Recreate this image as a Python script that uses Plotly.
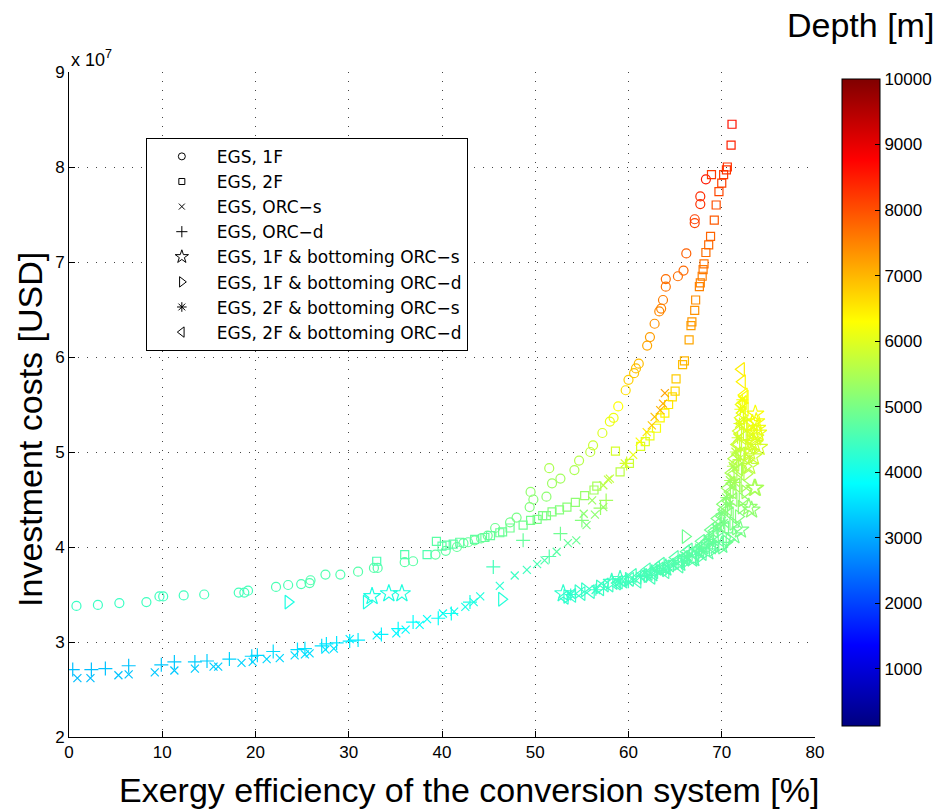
import plotly.graph_objects as go

# ---------------- data (efficiency %, cost in 1e7 USD, depth m) ----------------
egs1f_x = [0.8, 3.1, 5.4, 8.3, 9.7, 10.1, 12.3, 14.5, 18.2, 18.8, 19.2, 22.2, 23.5, 24.9, 25.8, 25.9, 27.5, 29.1,
           31.0, 32.7, 33.1, 36.0, 36.9, 39.3, 40.4, 41.6, 42.3, 42.8, 43.5, 44.2, 44.9, 45.7, 47.3, 48.0, 49.4,
           49.5, 49.8, 51.2, 51.5, 51.8, 52.7, 54.2, 54.7, 55.9, 56.2, 57.2, 58.0, 58.4, 58.9, 59.7, 60.0, 60.6,
           60.8, 61.1, 62.0, 62.3, 62.8, 63.3, 63.5, 63.7, 64.0, 64.0, 65.3, 65.9, 66.2, 67.1, 67.1, 67.7, 67.7, 68.3]
egs1f_y = [3.38, 3.39, 3.41, 3.42, 3.48, 3.48, 3.49, 3.50, 3.52, 3.52, 3.54, 3.58, 3.60, 3.61, 3.62, 3.65, 3.71, 3.71,
           3.74, 3.78, 3.78, 3.84, 3.85, 3.92, 3.96, 4.00, 4.04, 4.05, 4.07, 4.09, 4.12, 4.20, 4.26, 4.31, 4.42,
           4.58, 4.50, 4.53, 4.83, 4.67, 4.72, 4.81, 4.91, 5.00, 5.07, 5.20, 5.32, 5.36, 5.48, 5.65, 5.76, 5.83,
           5.88, 5.93, 6.12, 6.21, 6.35, 6.48, 6.51, 6.60, 6.74, 6.82, 6.85, 6.91, 7.09, 7.41, 7.45, 7.61, 7.69, 7.87]
egs1f_d = [4400, 4400, 4400, 4450, 4450, 4450, 4450, 4500, 4500, 4500, 4500, 4550, 4550, 4550, 4600, 4600, 4600, 4600,
           4650, 4650, 4650, 4700, 4700, 4750, 4750, 4800, 4800, 4800, 4850, 4850, 4850, 4900, 4950, 5000, 5100,
           5250, 5150, 5200, 5500, 5350, 5400, 5500, 5600, 5700, 5800, 5950, 6100, 6150, 6300, 6600, 6750, 6850,
           6900, 6950, 7150, 7250, 7350, 7450, 7500, 7550, 7650, 7700, 7700, 7750, 7850, 8100, 8150, 8300, 8350, 8550]

egs2f_x = [33.0, 36.0, 38.4, 39.4, 40.0, 40.5, 41.2, 41.9, 43.5, 44.6, 45.2, 46.2, 46.5, 47.3, 48.7, 49.5, 50.2, 50.8,
           51.2, 51.8, 52.6, 53.4, 54.3, 55.3, 56.3, 56.6, 58.6, 59.1, 60.1, 61.3, 61.8, 62.3, 63.0, 63.4, 63.9,
           64.3, 64.7, 65.0, 65.1, 65.8, 66.0, 66.5, 66.7, 66.8, 67.1, 67.2, 67.6, 67.7, 67.9, 68.0, 68.1, 68.3,
           68.6, 68.8, 69.2, 69.4, 69.7, 70.0, 70.2, 70.5, 70.6, 68.9, 71.0, 71.1]
egs2f_y = [3.85, 3.92, 3.92, 4.06, 4.01, 4.02, 4.03, 4.05, 4.08, 4.10, 4.12, 4.15, 4.16, 4.20, 4.23, 4.28, 4.29, 4.33,
           4.33, 4.37, 4.39, 4.42, 4.47, 4.54, 4.60, 4.64, 5.01, 4.79, 4.88, 5.06, 5.11, 5.17, 5.25, 5.36, 5.41,
           5.50, 5.58, 5.64, 5.77, 5.92, 5.96, 6.18, 6.33, 6.37, 6.49, 6.60, 6.74, 6.78, 6.85, 6.92, 6.98, 7.10,
           7.18, 7.27, 7.44, 7.60, 7.74, 7.83, 7.92, 7.97, 8.00, 7.92, 8.23, 8.45]
egs2f_d = [4550, 4600, 4600, 4700, 4700, 4700, 4700, 4750, 4750, 4800, 4800, 4850, 4850, 4900, 4900, 4950, 5000, 5000,
           5050, 5100, 5100, 5150, 5200, 5300, 5400, 5450, 5900, 5650, 5750, 5950, 6000, 6100, 6200, 6350, 6400,
           6500, 6600, 6700, 6800, 6950, 7000, 7150, 7250, 7300, 7350, 7400, 7500, 7500, 7550, 7600, 7650, 7700,
           7750, 7800, 7900, 8000, 8100, 8150, 8200, 8250, 8300, 8200, 8450, 8600]

orcs_x = [0.9, 2.3, 5.3, 6.4, 9.2, 11.3, 13.5, 15.5, 16.0, 18.5, 19.7, 21.2, 22.6, 24.2, 25.3, 25.8, 27.5, 28.4,
          30.1, 33.0, 35.1, 36.1, 37.6, 38.4, 40.1, 41.3, 42.5, 43.4, 44.1, 46.2, 47.8, 49.1, 50.2, 51.0, 52.3,
          53.5, 54.4, 55.5, 55.2, 56.4, 56.1, 57.3, 57.3, 57.8, 58.0, 59.6, 60.5, 61.2, 61.95, 62.5, 62.8, 63.4,
          63.7, 63.9]
orcs_y = [2.62, 2.62, 2.65, 2.66, 2.68, 2.70, 2.72, 2.74, 2.74, 2.78, 2.79, 2.82, 2.83, 2.86, 2.87, 2.88, 2.92, 2.93,
          3.03, 3.07, 3.09, 3.13, 3.18, 3.24, 3.30, 3.32, 3.37, 3.42, 3.48, 3.59, 3.70, 3.76, 3.82, 3.86, 3.95,
          4.04, 4.07, 4.23, 4.35, 4.34, 4.49, 4.42, 4.65, 4.71, 4.72, 4.88, 4.97, 5.11, 5.21, 5.28, 5.37, 5.44,
          5.51, 5.62]
orcs_d = [3200, 3200, 3250, 3250, 3300, 3300, 3350, 3350, 3350, 3400, 3400, 3450, 3450, 3500, 3500, 3500, 3550, 3550,
          3650, 3700, 3750, 3800, 3850, 3900, 3950, 4000, 4050, 4100, 4150, 4250, 4400, 4450, 4550, 4600, 4700,
          4800, 4850, 5050, 5200, 5200, 5350, 5300, 5600, 5700, 5700, 5950, 6100, 6300, 6500, 6800, 6900, 7000,
          7100, 7200]

orcd_x = [0.4, 2.4, 3.9, 6.4, 9.9, 11.3, 13.5, 14.8, 17.2, 19.6, 20.2, 21.9, 24.5, 25.3, 27.1, 27.6, 28.7, 30.1,
          31.0, 33.5, 35.3, 36.9, 39.6, 41.0, 43.0, 45.5, 48.7, 51.5, 52.7, 55.0, 57.0, 57.6, 59.8]
orcd_y = [2.71, 2.71, 2.72, 2.75, 2.76, 2.79, 2.79, 2.80, 2.82, 2.85, 2.86, 2.90, 2.92, 2.93, 2.96, 2.98, 2.99, 3.01,
          3.02, 3.08, 3.14, 3.21, 3.25, 3.30, 3.42, 3.79, 4.07, 3.90, 4.14, 4.28, 4.41, 4.49, 4.88]
orcd_d = [3200, 3200, 3250, 3250, 3300, 3300, 3350, 3350, 3400, 3450, 3450, 3500, 3500, 3550, 3550, 3600, 3600, 3650,
          3650, 3700, 3800, 3850, 3900, 3950, 4100, 4500, 4800, 4650, 4900, 5100, 5300, 5400, 5900]

b1fs_x = [32.5, 34.3, 35.7, 53.0, 58.2, 59.1, 62.5, 64.0, 65.5, 67.0, 68.5, 70.0, 71.3, 72.0, 72.9, 73.2, 73.5, 73.6,
          73.0, 73.4, 73.5, 73.4, 73.7, 73.8, 73.6, 74.0, 73.0, 73.2, 73.3, 73.6, 73.9]
b1fs_y = [3.48, 3.51, 3.51, 3.51, 3.63, 3.66, 3.72, 3.78, 3.83, 3.88, 3.95, 4.02, 4.12, 4.18, 4.42, 4.39, 4.62, 4.62,
          4.85, 4.95, 5.09, 5.20, 5.32, 5.25, 5.15, 5.05, 5.00, 5.10, 5.30, 5.40, 5.20]
b1fs_d = [4100, 4100, 4150, 4300, 4400, 4450, 4500, 4550, 4600, 4650, 4700, 4800, 4900, 5000, 5250, 5200, 5450, 5450,
          5700, 5800, 5950, 6050, 6200, 6150, 6000, 5900, 5850, 5950, 6150, 6250, 6100]

b1fd_x = [23.5, 31.9, 46.4, 53.4, 54.6, 55.3, 56.9, 60.0, 62.0, 64.0, 66.1, 66.0, 67.5, 69.0, 70.5, 71.5, 72.1, 72.5,
          72.7, 72.7, 72.9, 73.1, 73.0, 70.0, 70.8, 71.2, 71.8, 72.2, 72.4, 72.6, 72.8]
b1fd_y = [3.42, 3.42, 3.45, 3.48, 3.53, 3.55, 3.58, 3.66, 3.70, 3.76, 4.11, 3.84, 3.89, 3.97, 4.05, 4.20, 4.42, 4.58,
          4.77, 4.92, 5.05, 5.15, 5.28, 4.00, 4.08, 4.25, 4.32, 4.50, 4.65, 4.85, 4.98]
b1fd_d = [4100, 4100, 4200, 4300, 4350, 4350, 4400, 4450, 4500, 4550, 4900, 4600, 4650, 4750, 4850, 5000, 5200, 5400,
          5600, 5750, 5900, 6000, 6100, 4800, 4900, 5000, 5100, 5250, 5400, 5650, 5800]

b2fs_x = [53.8, 56.5, 59.0, 61.3, 63.0, 64.8, 66.2, 67.6, 68.6, 69.4, 70.0, 70.5, 70.9, 71.2, 71.5, 71.7, 71.9, 72.0,
          72.2, 60.0, 62.0, 64.0, 66.0, 68.0, 69.0, 70.2, 70.8, 71.4, 71.8]
b2fs_y = [3.50, 3.55, 3.63, 3.69, 3.75, 3.82, 3.90, 3.99, 4.08, 4.20, 4.35, 4.52, 4.70, 4.85, 5.00, 5.15, 5.30, 5.45,
          5.55, 3.63, 3.70, 3.76, 3.84, 3.95, 4.03, 4.25, 4.45, 4.68, 4.92]
b2fs_d = [4300, 4350, 4450, 4500, 4550, 4600, 4700, 4750, 4850, 4950, 5050, 5200, 5400, 5550, 5700, 5850, 6000, 6100,
          6200, 4450, 4500, 4550, 4650, 4750, 4800, 5000, 5200, 5450, 5650]

b2fd_x = [53.2, 54.0, 55.0, 56.0, 57.0, 58.0, 58.8, 59.5, 60.2, 61.0, 61.6, 62.2, 62.8, 63.4, 64.0, 64.5, 65.0, 65.5,
          66.0, 66.5, 67.0, 67.5, 68.0, 68.4, 68.8, 69.2, 69.6, 70.0, 70.3, 70.6, 70.9, 71.1, 71.3, 71.5, 71.7, 71.8,
          72.0, 72.1, 72.2, 72.3, 72.4, 72.2, 72.1,
          61.0, 62.5, 64.0, 65.5, 67.0, 68.0, 69.0, 69.8, 70.4, 70.9, 71.3, 71.6, 71.9, 72.1, 72.3, 72.4, 72.5, 72.5,
          60.5, 62.0, 63.5, 65.0, 66.5, 67.8, 68.8, 69.5, 70.1, 70.6, 71.0, 71.3, 71.6, 71.8, 72.0, 72.1,
          57.5, 59.0, 63.0, 66.2, 67.2, 68.2, 69.3, 70.0, 70.7, 71.2, 71.8]
b2fd_y = [3.47, 3.49, 3.51, 3.53, 3.56, 3.60, 3.62, 3.64, 3.66, 3.68, 3.70, 3.72, 3.74, 3.77, 3.79, 3.81, 3.84, 3.86,
          3.89, 3.92, 3.95, 3.98, 4.02, 4.06, 4.11, 4.17, 4.24, 4.32, 4.40, 4.49, 4.58, 4.67, 4.77, 4.87, 4.98, 5.08,
          5.19, 5.30, 5.41, 5.52, 5.60, 5.74, 5.87,
          3.64, 3.68, 3.74, 3.80, 3.87, 3.93, 4.00, 4.08, 4.20, 4.35, 4.50, 4.65, 4.82, 4.98, 5.15, 5.30, 5.45, 5.58,
          3.70, 3.76, 3.82, 3.89, 3.97, 4.06, 4.18, 4.30, 4.45, 4.62, 4.78, 4.93, 5.08, 5.22, 5.36, 5.50,
          3.60, 3.63, 3.78, 3.95, 3.92, 4.00, 4.12, 4.22, 4.40, 4.58, 4.80]
b2fd_d = [4300, 4300, 4350, 4350, 4400, 4400, 4450, 4450, 4500, 4500, 4500, 4550, 4550, 4600, 4600, 4600, 4650, 4650,
          4700, 4700, 4750, 4750, 4800, 4800, 4850, 4900, 4950, 5000, 5100, 5200, 5300, 5400, 5500, 5600, 5700, 5800,
          5900, 6000, 6100, 6200, 6300, 6400, 6450,
          4450, 4500, 4550, 4600, 4650, 4700, 4750, 4800, 4950, 5100, 5250, 5400, 5550, 5700, 5850, 6000, 6150, 6250,
          4500, 4550, 4600, 4650, 4700, 4800, 4900, 5000, 5150, 5300, 5450, 5600, 5750, 5900, 6050, 6150,
          4400, 4450, 4550, 4700, 4700, 4750, 4850, 4950, 5150, 5300, 5500]

series_names = ["EGS, 1F", "EGS, 2F", "EGS, ORC\u2212s", "EGS, ORC\u2212d",
                "EGS, 1F & bottoming ORC\u2212s", "EGS, 1F & bottoming ORC\u2212d",
                "EGS, 2F & bottoming ORC\u2212s", "EGS, 2F & bottoming ORC\u2212d"]
x_ticks = [0, 10, 20, 30, 40, 50, 60, 70, 80]
y_ticks = [2, 3, 4, 5, 6, 7, 8, 9]
cbar_ticks = [1000, 2000, 3000, 4000, 5000, 6000, 7000, 8000, 9000, 10000]
depth_min, depth_max = 125, 10000

# ---------------- styling ----------------
FONT = "Liberation Sans, Arial, Helvetica, sans-serif"
LEGEND_FONT = "DejaVu Sans, Liberation Sans, sans-serif"
jet = [[0, "rgb(0,0,128)"], [0.125, "rgb(0,0,255)"], [0.375, "rgb(0,255,255)"],
       [0.625, "rgb(255,255,0)"], [0.875, "rgb(255,0,0)"], [1, "rgb(128,0,0)"]]

data = [
    (egs1f_x, egs1f_y, egs1f_d, "circle-open", 9),
    (egs2f_x, egs2f_y, egs2f_d, "square-open", 8),
    (orcs_x, orcs_y, orcs_d, "x-thin-open", 8),
    (orcd_x, orcd_y, orcd_d, "cross-thin-open", 10),
    (b1fs_x, b1fs_y, b1fs_d, "star-open", 13),
    (b1fd_x, b1fd_y, b1fd_d, "triangle-right-open", 12),
    (b2fs_x, b2fs_y, b2fs_d, "asterisk-open", 10),
    (b2fd_x, b2fd_y, b2fd_d, "triangle-left-open", 12),
]

fig = go.Figure()
for i, (xs, ys, ds, sym, sz) in enumerate(data):
    fig.add_trace(go.Scatter(
        x=xs, y=ys, mode="markers", showlegend=False, name=series_names[i],
        marker=dict(symbol=sym, size=sz, color=ds, colorscale=jet, cmin=depth_min, cmax=depth_max,
                    line=dict(width=1.2),
                    showscale=(i == 0),
                    colorbar=dict(x=1.023, xanchor="left", xref="paper", thickness=38,
                                  lenmode="pixels", len=667, y=0.503, yanchor="middle",
                                  tickvals=cbar_ticks, ticktext=[str(v) for v in cbar_ticks],
                                  ticks="inside", ticklen=5, tickcolor="black",
                                  outlinecolor="black", outlinewidth=1,
                                  tickfont=dict(family=FONT, size=17, color="black"))),
    ))

legend_sizes = [7, 6, 6, 8, 10, 9, 8, 9]
for i, (xs, ys, ds, sym, sz) in enumerate(data):
    fig.add_trace(go.Scatter(
        x=[None], y=[None], mode="markers", name=series_names[i], showlegend=True,
        marker=dict(symbol=sym, size=legend_sizes[i], color="black", line=dict(width=1)),
    ))

fig.update_layout(
    width=938, height=809,
    margin=dict(l=69, r=123, t=72, b=72, autoexpand=False),
    paper_bgcolor="white", plot_bgcolor="white",
    font=dict(family=FONT, color="black"),
    legend=dict(x=0.103, y=0.901, xanchor="left", yanchor="top",
                bordercolor="black", borderwidth=1, bgcolor="white",
                font=dict(family=LEGEND_FONT, size=17), itemwidth=60, tracegroupgap=0),
    xaxis=dict(range=[0, 80], tickvals=x_ticks, ticks="inside", ticklen=6, tickcolor="black",
               showline=True, linecolor="black", linewidth=1, mirror=False,
               showgrid=True, gridcolor="#444", gridwidth=1, griddash="1px,8px",
               zeroline=False, tickfont=dict(family=FONT, size=17)),
    yaxis=dict(range=[2, 9], tickvals=y_ticks, ticks="inside", ticklen=6, tickcolor="black",
               showline=True, linecolor="black", linewidth=1, mirror=False,
               showgrid=True, gridcolor="#444", gridwidth=1, griddash="1px,8px",
               zeroline=False, tickfont=dict(family=FONT, size=17)),
    annotations=[
        dict(text="Exergy efficiency of the conversion system [%]", xref="paper", yref="paper",
             x=0.536, y=-0.08, xanchor="center", yanchor="middle", showarrow=False,
             font=dict(family=FONT, size=34)),
        dict(text="Investment costs [USD]", xref="paper", yref="paper", textangle=-90,
             x=-0.052, y=0.462, xanchor="center", yanchor="middle", showarrow=False,
             font=dict(family=FONT, size=34)),
        dict(text="x 10<sup>7</sup>", xref="paper", yref="paper",
             x=0.0, y=1.0, xanchor="left", yanchor="bottom", showarrow=False,
             font=dict(family=FONT, size=18)),
        dict(text="Depth [m]", xref="paper", yref="paper",
             x=1.162, y=1.071, xanchor="right", yanchor="middle", showarrow=False,
             font=dict(family=FONT, size=34)),
    ],
)

fig.write_html("out.html")
